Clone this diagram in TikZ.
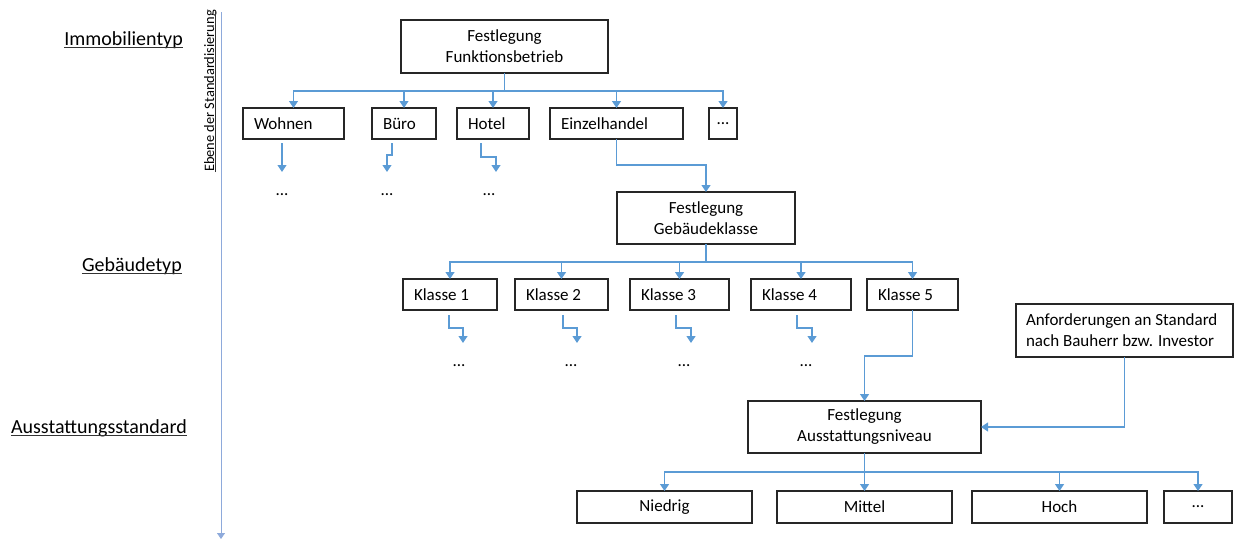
\documentclass[tikz,border=0pt]{standalone}
\usepackage{fontspec}
\setmainfont{Carlito}
\usepackage{tikz}
\usetikzlibrary{arrows.meta, positioning}

\definecolor{linkblue}{HTML}{5B9BD5}
\definecolor{axisblue}{HTML}{8EAADB}
\newcommand\boxfont{\fontsize{17}{21}\selectfont}
\newcommand\layerfont{\fontsize{20}{24}\selectfont}

\begin{document}
\begin{tikzpicture}[x=1pt, y=-1pt,
        box/.style={draw=black!85, line width=1.1pt, rectangle, align=center, font=\boxfont, inner sep=2pt, outer sep=0pt},
        leaf/.style={box, align=left, inner xsep=11pt, minimum height=31pt,
            execute at begin node={\spaceskip=0pt\xspaceskip=0pt\relax}},
        dotnode/.style={font=\boxfont, inner sep=0pt, minimum height=44pt},
        layer/.style={font=\layerfont, inner sep=0pt},
        link/.style={draw=linkblue, line width=1.2pt, -{Triangle[width=9pt,length=7pt]}},
        uline/.style={draw=black!80, line width=0.9pt}]
        \useasboundingbox (0,0) rectangle (1234,539);
        % Levels of standardisation on the left
        \node[layer, anchor=base east] (immo) at (183,45) {Immobilientyp};
        \node[layer, anchor=base east] (gebtyp) at (182,271) {Gebäudetyp};
        \node[layer, anchor=base east] (ausst) at (187,433) {Ausstattungsstandard};
        \draw[uline] ([yshift=-2.7pt]immo.base west) -- ([yshift=-2.7pt]immo.base east);
        \draw[uline] ([yshift=-2.7pt]gebtyp.base west) -- ([yshift=-2.7pt]gebtyp.base east);
        \draw[uline] ([yshift=-2.7pt]ausst.base west) -- ([yshift=-2.7pt]ausst.base east);

        \coordinate (axtop) at (221,12);
        \coordinate (axend) at (221,539);
        \draw[draw=axisblue, line width=0.9pt, -{Triangle[width=8pt,length=6pt]}] (axtop) -- (axend);
        \node[font=\fontsize{14.4}{17}\selectfont, inner sep=0pt, rotate=90, anchor=base west] (ebene) at (214,172) {Ebene der Standardisierung};
        \draw[uline] ([xshift=1.8pt]ebene.base west) -- ([xshift=1.8pt]ebene.base east);

        % Immobilientyp
        \node[box, minimum width=207pt, minimum height=53pt] (fb) at (504.5,46.5) {Festlegung\\Funktionsbetrieb};
        \node[leaf, text width=79pt] (wohnen) at (293.5,123.5) {Wohnen};
        \node[leaf, text width=42pt, right=28pt of wohnen] (buero) {Büro};
        \node[leaf, text width=50pt, right=21pt of buero] (hotel) {Hotel};
        \node[leaf, text width=111pt, right=21pt of hotel] (einzel) {Einzelhandel};
        \node[box, minimum width=28pt, minimum height=31pt, right=26pt of einzel] (moretyp) {...};
        \node[dotnode, anchor=north] (dwohnen) at (282,172) {...};
        \node[dotnode, anchor=north] (dbuero) at (387,172) {...};
        \node[dotnode, anchor=north] (dhotel) at (489,172) {...};

        \draw[link] (fb.south) -- ++(0,18) -| (wohnen.north);
        \draw[link] (fb.south) -- ++(0,18) -| (buero.north);
        \draw[link] (fb.south) -- ++(0,18) -| (hotel.north);
        \draw[link] (fb.south) -- ++(0,18) -| (einzel.north);
        \draw[link] (fb.south) -- ++(0,18) -| (moretyp.north);
        \draw[link] ([yshift=-4pt]dwohnen.north |- wohnen.south) -- (dwohnen.north);
        \draw[link] ([xshift=-12pt,yshift=-4pt]buero.south) -- ++(0,12) -| (dbuero.north);
        \draw[link] ([xshift=-12pt,yshift=-4pt]hotel.south) -- ++(0,14) -| ([xshift=7pt]dhotel.north);

        % Gebaeudetyp
        \node[box, minimum width=178pt, minimum height=52pt] (fg) at (706,218) {Festlegung\\Gebäudeklasse};
        \node[leaf, text width=72pt] (k1) at (450,294.5) {Klasse 1};
        \node[leaf, text width=71pt, right=18pt of k1] (k2) {Klasse 2};
        \node[leaf, text width=77pt, right=22pt of k2] (k3) {Klasse 3};
        \node[leaf, text width=78pt, right=22pt of k3] (k4) {Klasse 4};
        \node[leaf, text width=69pt, right=16pt of k4] (k5) {Klasse 5};
        \node[dotnode, anchor=north] (dk1) at (459,343) {...};
        \node[dotnode, anchor=north] (dk2) at (571,343) {...};
        \node[dotnode, anchor=north] (dk3) at (684,343) {...};
        \node[dotnode, anchor=north] (dk4) at (806,343) {...};

        \draw[link] (einzel.south) -- ++(0,26) -| (fg.north);
        \draw[link] (fg.south) -- ++(0,18) -| (k1.north);
        \draw[link] (fg.south) -- ++(0,18) -| (k2.north);
        \draw[link] (fg.south) -- ++(0,18) -| (k3.north);
        \draw[link] (fg.south) -- ++(0,18) -| (k4.north);
        \draw[link] (fg.south) -- ++(0,18) -| (k5.north);
        \draw[link] ([xshift=-1pt,yshift=-5pt]k1.south) -- ++(0,13) -| ([xshift=4pt]dk1.north);
        \draw[link] ([xshift=1.5pt,yshift=-5pt]k2.south) -- ++(0,13) -| ([xshift=6pt]dk2.north);
        \draw[link] ([xshift=-3.5pt,yshift=-5pt]k3.south) -- ++(0,13) -| ([xshift=7pt]dk3.north);
        \draw[link] ([xshift=-4pt,yshift=-5pt]k4.south) -- ++(0,13) -| ([xshift=6pt]dk4.north);

        % Ausstattungsstandard
        \node[leaf, text width=197pt, inner xsep=10pt, minimum height=53pt] (anf) at (1124.5,330.5) {Anforderungen an Standard\\nach Bauherr bzw. Investor};
        \node[box, minimum width=233pt, minimum height=52pt] (fa) at (864.5,427) {Festlegung\\Ausstattungsniveau};
        \node[box, minimum width=175pt, minimum height=32pt] (niedrig) at (664.5,507) {Niedrig};
        \node[box, minimum width=175pt, minimum height=32pt, right=25pt of niedrig] (mittel) {Mittel};
        \node[box, minimum width=175pt, minimum height=32pt, right=20pt of mittel] (hoch) {Hoch};
        \node[box, minimum width=68pt, minimum height=32pt, right=17pt of hoch] (morestd) {...};

        \draw[link] (k5.south) -- ++(0,46) -| (fa.north);
        \draw[link] (anf.south) |- (fa.east);
        \draw[link] (fa.south) -- ++(0,19) -| (niedrig.north);
        \draw[link] (fa.south) -- ++(0,19) -| (mittel.north);
        \draw[link] (fa.south) -- ++(0,19) -| (hoch.north);
        \draw[link] (fa.south) -- ++(0,19) -| (morestd.north);
\end{tikzpicture}
\end{document}
